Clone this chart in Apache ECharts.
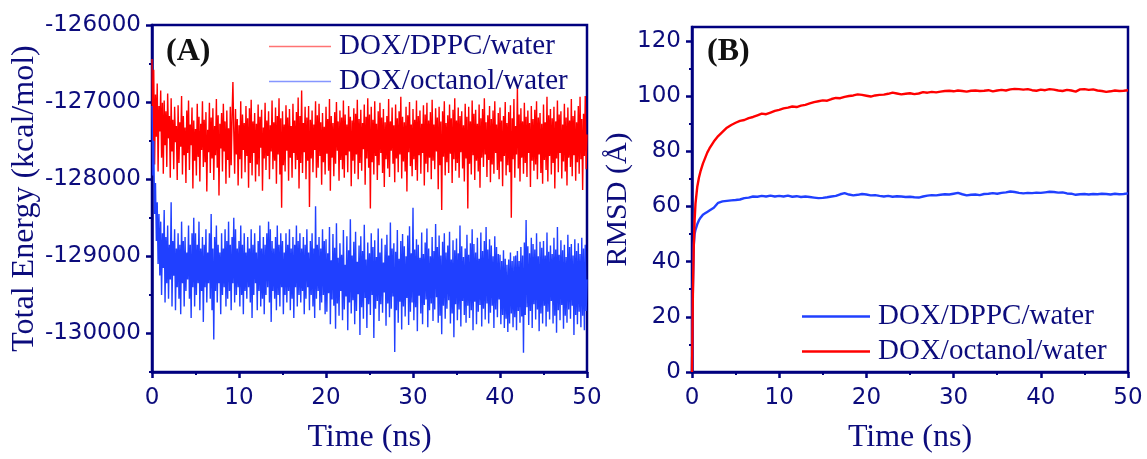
<!DOCTYPE html>
<html>
<head>
<meta charset="utf-8">
<script src="https://cdn.jsdelivr.net/npm/echarts@6/dist/echarts.min.js"></script>
<style>
  html, body { margin: 0; padding: 0; background: #ffffff; }
  #chart { width: 1147px; height: 459px; }
</style>
</head>
<body>
<div id="chart"></div>
<script>
// Sampling interval of the total-energy traces (ns)
const timeStepNs = 0.1;

// Total energy (kcal/mol), DOX/DPPC/water, one value per 0.1 ns from 0 to 50 ns
const energyDppc = [
  -126440,-127620,-126580,-127810,-126900,-127450,-126760,-127900,-127050,-127380,
  -126850,-127720,-127010,-127930,-126980,-127560,-127120,-127840,-126890,-127470,
  -127180,-127980,-126950,-127640,-127230,-127870,-127060,-127520,-127310,-128010,
  -127040,-127790,-127260,-127580,-126920,-127940,-127180,-127690,-127330,-128050,
  -127110,-127660,-126980,-127880,-127290,-127560,-127070,-128120,-127240,-127760,
  -127350,-127950,-127020,-127710,-127190,-128030,-127280,-127620,-126990,-127840,
  -127230,-127780,-127130,-128160,-127360,-127650,-127010,-127920,-127200,-127730,
  -127080,-128010,-127310,-127690,-126960,-127850,-127170,-128210,-127280,-127600,
  -127140,-127900,-127020,-127640,-127250,-128060,-127110,-127750,-127340,-127980,
  -127060,-127820,-127190,-126740,-127380,-127930,-127090,-127680,-127220,-128080,
  -127300,-127740,-126990,-127990,-127160,-127620,-127270,-127910,-127050,-127700,
  -127210,-128110,-127080,-127790,-126970,-127950,-127250,-127660,-127140,-128030,
  -127280,-127810,-127030,-127960,-127190,-127590,-127100,-128150,-127330,-127730,
  -127010,-127880,-127240,-127700,-127120,-128000,-127300,-127640,-126980,-127870,
  -127260,-127760,-127070,-128060,-127180,-127680,-126950,-127940,-127210,-128370,
  -127120,-127820,-127290,-127900,-127040,-127630,-127200,-128020,-127090,-127720,
  -127310,-127980,-127020,-127660,-127240,-127870,-127130,-127750,-126940,-128120,
  -127180,-127790,-126850,-127920,-127270,-127650,-127060,-128000,-127200,-127760,
  -127050,-128360,-127230,-127730,-127110,-127910,-127290,-127620,-126990,-127980,
  -127170,-127850,-127020,-127700,-127260,-128070,-127140,-127780,-127320,-127940,
  -127060,-127670,-127220,-127890,-126960,-128150,-127180,-127720,-127270,-127960,
  -127130,-127800,-127000,-127630,-127250,-128020,-127110,-127750,-127200,-127870,
  -126980,-127980,-127160,-127690,-127290,-127910,-127050,-127640,-127190,-128090,
  -127240,-127760,-127080,-127930,-127150,-127680,-126970,-128000,-127220,-127790,
  -127100,-127890,-127270,-127610,-127030,-128070,-127190,-127730,-126950,-127850,
  -127160,-128380,-127060,-127780,-127230,-127940,-126990,-127700,-127280,-128010,
  -127120,-127820,-127010,-127660,-127200,-127920,-127090,-128100,-127260,-127740,
  -127180,-127860,-126960,-127970,-127250,-127630,-127070,-127800,-127300,-128040,
  -127030,-127730,-127210,-127910,-127120,-127680,-126930,-127990,-127190,-127770,
  -127260,-127900,-127060,-128160,-127170,-127650,-127000,-127830,-127290,-127960,
  -127090,-127740,-127230,-127880,-126980,-128020,-127180,-127690,-127110,-127930,
  -127280,-127660,-127040,-128080,-127160,-127800,-127010,-127910,-127240,-127720,
  -127130,-128000,-126970,-127760,-127290,-127870,-127080,-127640,-127200,-128130,
  -127060,-127820,-127250,-128400,-127120,-127710,-126990,-127950,-127270,-127780,
  -127170,-127920,-127030,-127670,-127210,-128050,-127100,-127740,-126950,-127890,
  -127240,-127790,-127070,-127980,-127180,-127650,-127120,-127860,-127300,-128030,
  -127020,-127730,-127190,-128380,-127060,-127800,-127250,-127940,-126980,-127690,
  -127150,-128010,-127100,-127760,-127280,-127900,-127030,-128110,-127210,-127720,
  -127090,-127840,-126950,-127680,-127260,-127970,-127170,-127750,-127050,-128040,
  -127220,-127810,-127110,-127930,-126990,-127660,-127290,-127880,-127140,-128000,
  -127070,-127770,-127240,-128090,-127180,-127700,-127000,-127950,-127270,-127820,
  -127130,-127910,-127040,-128500,-127210,-127740,-126960,-127980,-127310,-127680,
  -126810,-127860,-127160,-128030,-127080,-127720,-127250,-127930,-127010,-127790,
  -127190,-127970,-127110,-127660,-127270,-128100,-127050,-127760,-127220,-127890,
  -127100,-127810,-126990,-128000,-127200,-127680,-127140,-127920,-127280,-128060,
  -127030,-127750,-127260,-127880,-126930,-128030,-127170,-127700,-127090,-127940,
  -127210,-127790,-127060,-128120,-127250,-127730,-126980,-127910,-127160,-127660,
  -127120,-127990,-127290,-127770,-127020,-127900,-127200,-128080,-127070,-127720,
  -127240,-127840,-126960,-127960,-127180,-127690,-127110,-128020,-127260,-127780,
  -127050,-127930,-126930,-127740,-127220,-128140,-127150,-127700,-126920,-127870,
  -127420
];

// Total energy (kcal/mol), DOX/octanol/water, one value per 0.1 ns from 0 to 50 ns
const energyOctanol = [
  -127050,-127950,-127500,-128450,-128050,-128800,-128300,-129100,-128450,-129250,
  -128550,-129500,-128700,-129150,-128400,-129600,-128750,-129350,-128600,-129550,
  -128850,-129300,-128300,-129650,-128800,-129250,-128650,-129700,-128900,-129400,
  -128700,-129550,-128850,-129750,-128550,-129350,-128800,-129650,-128750,-129450,
  -128950,-129300,-128600,-129550,-128850,-129800,-128700,-129400,-128500,-129650,
  -128700,-129500,-128850,-129350,-128550,-129700,-128900,-129450,-128750,-129850,
  -128850,-129400,-128650,-129600,-128950,-129350,-128700,-129550,-128450,-129700,
  -128900,-130080,-128750,-129450,-128600,-129600,-128850,-129350,-128950,-129750,
  -128700,-129500,-128900,-129400,-128650,-129650,-128800,-129550,-128550,-129450,
  -128850,-129700,-128750,-129350,-128500,-129600,-128650,-129500,-128900,-129400,
  -128800,-129650,-128600,-129500,-128850,-129750,-128700,-129450,-128950,-129550,
  -128750,-129400,-128900,-129600,-128650,-129800,-128850,-129500,-128700,-129350,
  -128950,-129700,-128800,-129450,-128600,-129650,-128900,-129550,-128750,-129750,
  -128850,-129500,-128700,-129400,-128550,-129600,-128650,-129850,-128800,-129450,
  -128900,-129550,-128750,-129700,-128600,-129500,-128850,-129650,-128700,-129400,
  -128800,-129750,-128950,-129500,-128700,-129600,-128850,-129450,-128650,-129700,
  -128900,-129550,-128750,-129800,-128850,-129400,-128600,-129650,-128800,-129500,
  -128700,-129600,-128900,-129450,-128750,-129750,-128850,-129550,-128650,-129400,
  -128950,-129700,-128800,-129500,-128700,-129650,-128900,-129800,-128350,-129550,
  -128850,-129450,-128750,-129700,-128900,-129600,-128650,-129500,-128800,-129750,
  -128780,-129720,-128960,-129480,-128620,-129880,-129050,-129560,-128710,-129640,
  -128890,-129940,-128570,-129610,-129020,-129770,-128830,-129450,-128980,-129830,
  -128660,-129690,-129110,-129520,-128740,-129960,-128920,-129600,-128520,-129740,
  -128990,-129570,-128810,-129880,-128680,-129710,-129070,-129490,-128860,-130020,
  -128740,-129660,-128930,-129810,-128590,-129540,-129040,-129930,-128820,-129620,
  -128960,-129760,-128700,-129500,-128880,-130060,-128790,-129680,-129010,-129580,
  -128640,-129840,-128950,-129620,-128770,-129730,-129080,-129470,-128850,-129900,
  -128720,-129610,-128990,-129790,-128560,-129680,-128900,-129520,-128830,-130240,
  -128940,-129700,-128660,-129860,-129030,-129590,-128800,-129950,-128710,-129650,
  -128870,-129780,-129000,-129540,-128730,-129890,-128610,-129720,-128960,-129600,
  -128370,-129830,-128910,-129660,-128780,-129970,-128850,-129510,-129020,-129740,
  -128690,-129880,-128970,-129630,-128820,-129560,-128640,-129920,-128900,-129700,
  -129000,-129610,-128750,-129840,-128930,-129690,-128580,-129530,-128880,-129860,
  -128730,-129770,-128990,-130010,-128810,-129640,-128700,-129810,-128950,-129680,
  -128860,-129570,-128680,-129870,-129040,-129740,-128790,-130050,-128920,-129620,
  -128770,-129830,-128960,-129690,-128600,-129910,-128870,-129580,-129010,-129760,
  -128900,-129860,-128720,-129640,-128980,-129800,-128830,-129700,-128650,-129960,
  -128840,-129590,-128950,-129880,-128760,-129720,-129030,-129630,-128690,-129910,
  -128930,-129680,-128800,-129820,-128620,-129610,-128910,-129870,-128780,-129730,
  -128860,-129640,-129000,-129930,-128740,-129690,-128880,-129790,-128970,-129560,
  -128980,-129880,-129060,-129760,-128920,-129930,-129030,-129810,-129110,-129980,
  -129040,-129870,-128950,-129740,-129060,-129920,-129000,-129790,-128990,-129960,
  -128930,-129710,-129060,-129860,-128880,-129780,-128990,-130250,-128820,-129760,
  -128530,-129660,-128870,-129890,-128960,-129710,-128760,-129930,-128840,-129620,
  -128910,-129820,-128700,-129690,-129000,-129970,-128810,-129740,-128890,-129870,
  -128800,-129640,-128990,-129910,-128690,-129720,-128940,-129820,-128860,-129580,
  -128970,-129870,-128760,-129770,-128910,-129990,-128620,-129700,-128980,-129830,
  -128790,-129630,-128920,-129940,-128850,-129770,-129010,-129860,-128720,-129690,
  -128880,-129810,-128840,-129640,-128990,-130020,-128780,-129760,-128930,-129880,
  -128830,-129720,-128970,-129920,-128760,-129770,-128900,-129960,-128850,-129710,
  -129300
];

// RMSD (Å) vs time (ns), DOX/DPPC/water
const rmsdDppc = [
  [0,0],[0.1,30],[0.2,46],[0.3,50],[0.4,51.5],[0.6,53.5],[0.8,55],[1,56],[1.25,57],[1.5,57.5],
  [1.75,58],[2,58.5],[2.5,59.5],[3,61.3],[3.5,61.8],[4,62],[4.5,62.2],[5,62.3],[5.5,62.5],[6,63],
  [6.5,63.2],[7,63.6],[7.5,63.5],[8,63.8],[8.5,63.6],[9,63.9],[9.5,63.6],[10,63.8],[10.5,63.6],[11,63.9],
  [11.5,63.5],[12,63.7],[12.5,63.4],[13,63.6],[13.5,63.4],[14,63.2],[14.5,63],[15,63.1],[15.5,63.3],[16,63.6],
  [16.5,63.8],[17,64.4],[17.5,64.8],[18,64.3],[18.5,64],[19,64.2],[19.5,64.5],[20,64.3],[20.5,64],[21,64.1],
  [21.5,63.8],[22,63.6],[22.5,63.8],[23,63.5],[23.5,63.7],[24,63.6],[24.5,63.4],[25,63.5],[25.5,63.3],[26,63.2],
  [26.5,63.6],[27,63.9],[27.5,64.1],[28,64],[28.5,64.2],[29,64.4],[29.5,64.3],[30,64.6],[30.5,64.9],[31,64.4],
  [31.5,64],[32,64.2],[32.5,64.3],[33,64.1],[33.5,64.5],[34,64.6],[34.5,64.8],[35,64.6],[35.5,64.9],[36,65.1],
  [36.5,65.4],[37,65.2],[37.5,64.9],[38,64.7],[38.5,64.9],[39,64.8],[39.5,65],[40,64.9],[40.5,65.1],[41,65.3],
  [41.5,65.2],[42,65],[42.5,65.1],[43,64.7],[43.5,64.6],[44,64.2],[44.5,64.4],[45,64.5],[45.5,64.3],[46,64.5],
  [46.5,64.4],[47,64.6],[47.5,64.5],[48,64.3],[48.5,64.6],[49,64.4],[49.5,64.5],[50,64.7]
];

// RMSD (Å) vs time (ns), DOX/octanol/water
const rmsdOctanol = [
  [0,0],[0.1,28],[0.2,45],[0.3,55],[0.4,61],[0.6,67],[0.8,70.5],[1,73],[1.25,75.5],[1.5,77.5],
  [1.75,79.5],[2,81],[2.5,83.5],[3,85.5],[3.5,87],[4,88.5],[4.5,89.5],[5,90.3],[5.5,91],[6,91.3],
  [6.5,92],[7,92.4],[7.5,93],[8,93.6],[8.5,93.4],[9,94],[9.5,94.6],[10,95],[10.5,95.5],[11,95.8],
  [11.5,96.2],[12,96],[12.5,96.5],[13,96.8],[13.5,97.3],[14,97.8],[14.5,98.1],[15,98.4],[15.5,98.3],[16,98.9],
  [16.5,99.3],[17,99.2],[17.5,99.7],[18,100],[18.5,100.2],[19,100.6],[19.5,100.4],[20,100.1],[20.5,99.8],[21,100.2],
  [21.5,100.4],[22,100.5],[22.5,100.8],[23,101.2],[23.5,100.9],[24,100.6],[24.5,100.8],[25,101],[25.5,100.7],[26,100.9],
  [26.5,101.4],[27,101.2],[27.5,101.5],[28,101.3],[28.5,101.6],[29,101.8],[29.5,101.9],[30,101.7],[30.5,102],[31,101.8],
  [31.5,101.6],[32,101.9],[32.5,102],[33,101.8],[33.5,101.9],[34,102.1],[34.5,101.7],[35,102],[35.5,102.2],[36,102],
  [36.5,102.4],[37,102.6],[37.5,102.5],[38,102.3],[38.5,102.5],[39,102.1],[39.5,101.9],[40,102.3],[40.5,102.1],[41,102.5],
  [41.5,102.3],[42,102],[42.5,101.8],[43,102.2],[43.5,102],[44,101.6],[44.5,102.4],[45,102.5],[45.5,102.2],[46,102.4],
  [46.5,102],[47,101.8],[47.5,101.5],[48,101.7],[48.5,102],[49,101.8],[49.5,101.9],[50,102.1]
];

// Axis tick positions
const energyTicks = [-130000, -129000, -128000, -127000, -126000];
const energyMinorTicks = [-130500, -129500, -128500, -127500, -126500];
const rmsdTicks = [0, 20, 40, 60, 80, 100, 120];
const rmsdMinorTicks = [10, 30, 50, 70, 90, 110];

const NAVY = '#00007f';
const TEXT_NAVY = '#0c0c7c';
const RED = '#ff0000';
const BLUE = '#2040ff';
const SERIF = '"Liberation Serif", "Times New Roman", serif';
const SANS = '"DejaVu Sans", "Liberation Sans", sans-serif';

const toPairs = (values) => values.map((v, i) => [+(i * timeStepNs).toFixed(1), v]);

function timeAxis(gridIndex) {
  return {
    type: 'value', gridIndex: gridIndex, min: 0, max: 50, interval: 10,
    name: 'Time (ns)', nameLocation: 'middle', nameGap: 50,
    nameTextStyle: { fontFamily: SERIF, fontSize: 32, color: TEXT_NAVY },
    axisLine: { show: true, lineStyle: { color: NAVY, width: 2.5 } },
    axisTick: { show: true, inside: false, length: 6, lineStyle: { color: NAVY, width: 2.5 } },
    minorTick: { show: true, splitNumber: 2, length: 3, lineStyle: { color: NAVY, width: 2 } },
    axisLabel: { color: TEXT_NAVY, fontFamily: SANS, fontSize: 23, margin: 15, formatter: (v) => String(v) },
    splitLine: { show: false }
  };
}

function mainValueAxis(gridIndex, min, max, ticks, name, nameGap, nameSize) {
  return {
    type: 'value', gridIndex: gridIndex, position: 'left', min: min, max: max,
    name: name, nameLocation: 'middle', nameGap: nameGap,
    nameTextStyle: { fontFamily: SERIF, fontSize: nameSize, color: TEXT_NAVY },
    axisLine: { show: true, lineStyle: { color: NAVY, width: 2.5 } },
    axisTick: { show: true, inside: false, length: 6, customValues: ticks, lineStyle: { color: NAVY, width: 2.5 } },
    axisLabel: { color: TEXT_NAVY, fontFamily: SANS, fontSize: 23, margin: 11, customValues: ticks, formatter: (v) => String(v) },
    splitLine: { show: false }
  };
}

function minorValueAxis(gridIndex, min, max, ticks) {
  return {
    type: 'value', gridIndex: gridIndex, position: 'left', min: min, max: max,
    axisLine: { show: false },
    axisTick: { show: true, inside: false, length: 3, customValues: ticks, lineStyle: { color: NAVY, width: 2 } },
    axisLabel: { show: false },
    splitLine: { show: false }
  };
}

const legendText = { fontFamily: SERIF, fontSize: 29, color: TEXT_NAVY, padding: [0, 0, 0, 3] };
const stripPanel = (name) => name.split('|')[1];

const option = {
  animation: false,
  backgroundColor: '#ffffff',
  title: [
    { text: '(A)', left: 161, top: 31, textStyle: { fontFamily: SERIF, fontWeight: 'bold', fontSize: 32, color: '#111111' } },
    { text: '(B)', left: 702, top: 31, textStyle: { fontFamily: SERIF, fontWeight: 'bold', fontSize: 32, color: '#111111' } }
  ],
  legend: [
    {
      left: 264, top: 27, orient: 'vertical', itemGap: 6, itemWidth: 62, itemHeight: 1.5, icon: 'rect',
      selectedMode: false, textStyle: legendText, formatter: stripPanel,
      data: [
        { name: 'A|DOX/DPPC/water', itemStyle: { opacity: 0.55 } },
        { name: 'A|DOX/octanol/water', itemStyle: { opacity: 0.55 } }
      ]
    },
    {
      left: 797, top: 297, orient: 'vertical', itemGap: 6, itemWidth: 68, itemHeight: 2.5, icon: 'rect',
      selectedMode: false, textStyle: legendText, formatter: stripPanel,
      data: ['B|DOX/DPPC/water', 'B|DOX/octanol/water']
    }
  ],
  grid: [
    { left: 152, right: 560, top: 25, bottom: 84, show: true, borderColor: NAVY, borderWidth: 2.5, backgroundColor: 'transparent' },
    { left: 692, right: 19, top: 27, bottom: 84, show: true, borderColor: NAVY, borderWidth: 2.5, backgroundColor: 'transparent' }
  ],
  xAxis: [timeAxis(0), timeAxis(1)],
  yAxis: [
    mainValueAxis(0, -130500, -126000, energyTicks, 'Total Energy (kcal/mol)', 108, 32),
    minorValueAxis(0, -130500, -126000, energyMinorTicks),
    mainValueAxis(1, 0, 125, rmsdTicks, 'RMSD (Å)', 56, 30),
    minorValueAxis(1, 0, 125, rmsdMinorTicks)
  ],
  series: [
    {
      name: 'A|DOX/DPPC/water', type: 'line', xAxisIndex: 0, yAxisIndex: 0,
      data: toPairs(energyDppc), symbol: 'none', lineStyle: { color: RED, width: 1.4 }, itemStyle: { color: RED }
    },
    {
      name: 'A|DOX/octanol/water', type: 'line', xAxisIndex: 0, yAxisIndex: 0,
      data: toPairs(energyOctanol), symbol: 'none', lineStyle: { color: BLUE, width: 1.4 }, itemStyle: { color: BLUE }
    },
    {
      name: 'B|DOX/DPPC/water', type: 'line', xAxisIndex: 1, yAxisIndex: 2,
      data: rmsdDppc, symbol: 'none', lineStyle: { color: BLUE, width: 2.4 }, itemStyle: { color: BLUE }
    },
    {
      name: 'B|DOX/octanol/water', type: 'line', xAxisIndex: 1, yAxisIndex: 2,
      data: rmsdOctanol, symbol: 'none', lineStyle: { color: RED, width: 2.4 }, itemStyle: { color: RED }
    }
  ]
};

const chart = echarts.init(document.getElementById('chart'), null, { renderer: 'canvas' });
chart.setOption(option);
</script>
</body>
</html>
